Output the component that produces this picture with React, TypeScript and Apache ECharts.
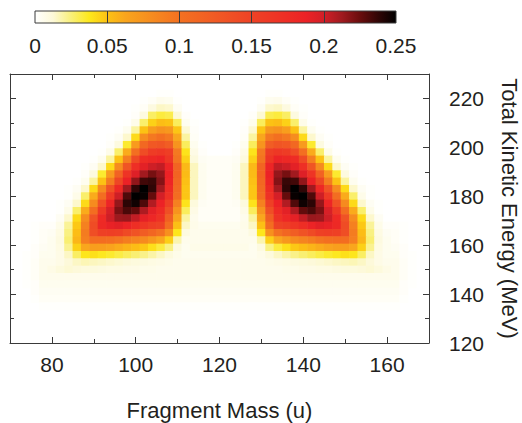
import React, { useEffect, useRef } from "react";
import * as echarts from "echarts";

// Fragment mass bin centres (u), bin width 2 u
const MASSES = [74, 76, 78, 80, 82, 84, 86, 88, 90, 92, 94, 96, 98, 100, 102, 104, 106, 108, 110, 112, 114, 116, 118, 120, 122, 124, 126, 128, 130, 132, 134, 136, 138, 140, 142, 144, 146, 148, 150, 152, 154, 156, 158, 160, 162, 164, 166];
// Total kinetic energy bin centres (MeV), bin width 3 MeV
const TKES = [222, 219, 216, 213, 210, 207, 204, 201, 198, 195, 192, 189, 186, 183, 180, 177, 174, 171, 168, 165, 162, 159, 156, 153, 150, 147, 144, 141, 138, 135];
const MASS_BIN = 2;
const TKE_BIN = 3;

// Yield per cell, in thousandths (rows follow TKES, columns follow MASSES)
const YIELD_PERMILLE = [
  [0,0,0,0,0,0,0,0,0,0,0,0,0,0,0,0,1,1,0,0,0,0,0, 0, 0,0,0,0,0,1,1,0,0,0,0,0,0,0,0,0,0,0,0,0,0,0,0],
  [0,0,0,0,0,0,0,0,0,0,0,0,0,0,1,3,6,5,1,0,0,0,0, 0, 0,0,0,0,1,5,6,3,1,0,0,0,0,0,0,0,0,0,0,0,0,0,0],
  [0,0,0,0,0,0,0,0,0,0,0,0,0,1,3,10,15,14,4,0,0,0,0, 0, 0,0,0,0,4,14,15,10,3,1,0,0,0,0,0,0,0,0,0,0,0,0,0],
  [0,0,0,0,0,0,0,0,0,0,0,0,0,2,10,28,33,31,13,2,0,0,0, 0, 0,0,0,2,13,31,33,28,10,2,0,0,0,0,0,0,0,0,0,0,0,0,0],
  [0,0,0,0,0,0,0,0,0,0,0,0,1,7,27,45,52,50,29,5,1,0,0, 0, 0,0,1,5,29,50,52,45,27,7,1,0,0,0,0,0,0,0,0,0,0,0,0],
  [0,0,0,0,0,0,0,0,0,0,0,1,5,20,50,68,76,72,49,13,2,0,0, 0, 0,0,2,13,49,72,76,68,50,20,5,1,0,0,0,0,0,0,0,0,0,0,0],
  [0,0,0,0,0,0,0,0,0,0,1,4,14,42,80,95,102,95,62,20,3,0,0, 0, 0,0,3,20,62,95,102,95,80,42,14,4,1,0,0,0,0,0,0,0,0,0,0],
  [0,0,0,0,0,0,0,0,0,0,2,10,35,70,110,127,130,122,75,29,5,1,0, 0, 0,1,5,29,75,122,130,127,110,70,35,10,2,0,0,0,0,0,0,0,0,0,0],
  [0,0,0,0,0,0,0,0,0,1,7,27,60,102,140,158,162,155,94,39,8,2,0, 0, 0,2,8,39,94,155,162,158,140,102,60,27,7,1,0,0,0,0,0,0,0,0,0],
  [0,0,0,0,0,0,0,0,1,5,20,50,90,142,176,181,185,165,98,45,11,4,3, 3, 3,4,11,45,98,165,185,181,176,142,90,50,20,5,1,0,0,0,0,0,0,0,0],
  [0,0,0,0,0,0,0,1,4,14,42,81,130,173,192,201,204,184,115,54,16,5,3, 3, 3,5,16,54,115,184,204,201,192,173,130,81,42,14,4,1,0,0,0,0,0,0,0],
  [0,0,0,0,0,0,0,2,10,35,70,117,167,194,212,222,215,187,115,53,16,5,3, 3, 3,5,16,53,115,187,215,222,212,194,167,117,70,35,10,2,0,0,0,0,0,0,0],
  [0,0,0,0,0,0,1,5,20,50,92,146,188,216,234,236,219,184,111,51,16,5,3, 3, 3,5,16,51,111,184,219,236,234,216,188,146,92,50,20,5,1,0,0,0,0,0,0],
  [0,0,0,0,0,1,4,14,42,81,133,181,212,238,250,238,212,177,108,49,16,5,3, 3, 3,5,16,49,108,177,212,238,250,238,212,181,133,81,42,14,4,1,0,0,0,0,0],
  [0,0,0,0,0,1,7,27,60,105,160,201,231,250,248,226,199,170,105,49,16,5,3, 3, 3,5,16,49,105,170,199,226,248,250,231,201,160,105,60,27,7,1,0,0,0,0,0],
  [0,0,0,0,1,4,14,42,81,134,184,215,239,246,231,208,187,153,88,39,11,4,3, 3, 3,4,11,39,88,153,187,208,231,246,239,215,184,134,81,42,14,4,1,0,0,0,0],
  [0,0,0,0,1,7,27,60,105,160,197,221,232,227,209,192,177,136,75,29,8,3,3, 3, 3,3,8,29,75,136,177,192,209,227,232,221,197,160,105,60,27,7,1,0,0,0,0],
  [0,0,0,0,4,14,42,80,132,178,201,213,214,204,191,182,169,120,62,20,6,3,3, 3, 3,3,6,20,62,120,169,182,191,204,214,213,201,178,132,80,42,14,4,0,0,0,0],
  [0,1,2,2,7,21,48,88,140,180,189,192,185,174,165,155,150,105,51,15,7,5,5, 5, 5,5,7,15,51,105,150,155,165,174,185,192,189,180,140,88,48,21,7,2,2,1,0],
  [0,1,3,4,9,24,52,92,138,152,155,152,142,132,122,112,100,78,38,10,6,6,6, 6, 6,6,6,10,38,78,100,112,122,132,142,152,155,152,138,92,52,24,9,4,3,1,0],
  [0,1,3,5,10,26,55,90,104,104,102,98,91,86,81,72,62,46,18,6,6,6,6, 6, 6,6,6,6,18,46,62,72,81,86,91,98,102,104,104,90,55,26,10,5,3,1,0],
  [0,2,4,5,9,22,45,62,68,67,64,60,56,52,48,40,33,24,10,5,7,7,7, 7, 7,7,7,5,10,24,33,40,48,52,56,60,64,67,68,62,45,22,9,5,4,2,0],
  [1,2,5,5,8,15,28,38,40,37,35,32,29,26,23,19,15,11,7,5,5,5,5, 5, 5,5,5,5,7,11,15,19,23,26,29,32,35,37,40,38,28,15,8,5,5,2,1],
  [1,3,6,6,8,12,15,17,16,15,14,13,12,11,10,9,8,7,6,6,6,6,6, 6, 6,6,6,6,6,7,8,9,10,11,12,13,14,15,16,17,15,12,8,6,6,3,1],
  [1,3,6,8,11,13,12,11,11,10,9,9,8,8,7,7,6,6,6,6,6,6,6, 6, 6,6,6,6,6,6,6,7,7,8,8,9,9,10,11,11,12,13,11,8,6,3,1],
  [1,3,6,6,6,6,6,6,6,6,6,6,6,6,6,6,6,6,6,6,6,6,6, 6, 6,6,6,6,6,6,6,6,6,6,6,6,6,6,6,6,6,6,6,6,6,3,1],
  [1,2,5,5,5,5,5,5,5,5,5,5,5,5,5,5,5,5,5,5,5,5,5, 5, 5,5,5,5,5,5,5,5,5,5,5,5,5,5,5,5,5,5,5,5,5,2,1],
  [0,2,4,4,4,4,4,4,4,4,4,4,4,4,4,4,4,4,4,4,4,4,4, 4, 4,4,4,4,4,4,4,4,4,4,4,4,4,4,4,4,4,4,4,4,4,2,0],
  [0,1,3,3,3,3,3,3,3,3,3,3,3,3,3,3,3,3,3,3,3,3,3, 3, 3,3,3,3,3,3,3,3,3,3,3,3,3,3,3,3,3,3,3,3,3,1,0],
  [0,0,1,1,1,1,1,1,1,1,1,1,1,1,1,1,1,1,1,1,1,1,1, 1, 1,1,1,1,1,1,1,1,1,1,1,1,1,1,1,1,1,1,1,1,1,0,0],
];

const MASS_RANGE = [70, 170];
const TKE_RANGE = [120, 230];
const MASS_TICKS = [80, 100, 120, 140, 160];
const MASS_MINOR_TICKS = [90, 110, 130, 150];
const TKE_TICKS = [120, 140, 160, 180, 200, 220];
const TKE_MINOR_TICKS = [130, 150, 170, 190, 210];
const COLORBAR_TICKS = [0, 0.05, 0.1, 0.15, 0.2, 0.25];
const COLORBAR_INNER_TICKS = [0.05, 0.1, 0.15, 0.2];
const COLORBAR_MAX = 0.25;

const COLORS = [
  "#ffffff", "#fdf9d8", "#f9f07a", "#fde81c", "#fcc214", "#f9a51d", "#f7941e",
  "#f58220", "#f37121", "#f26622", "#f15a24", "#ef4e25", "#ee4225", "#ee3825",
  "#ee2d25", "#ec2226", "#d21f27", "#a01a1f", "#6a0d0d", "#310606", "#000000",
];

const FONT = '"Liberation Sans", Arial, Helvetica, sans-serif';
const TEXT = "#231f20";
const LINE = "#3a3a3a";

export default function App() {
  const ref = useRef<HTMLDivElement>(null);

  useEffect(() => {
    if (!ref.current) return;
    const chart = echarts.init(ref.current, null, { renderer: "svg" });

    const data: number[][] = [];
    TKES.forEach((e, i) => {
      MASSES.forEach((m, j) => {
        const v = YIELD_PERMILLE[i][j];
        if (v > 0) data.push([m, e, v / 1000]);
      });
    });

    const gradient = new echarts.graphic.LinearGradient(
      0, 0, 1, 0,
      COLORS.map((c, i) => ({ offset: i / (COLORS.length - 1), color: c }))
    );

    const tickLine = { color: LINE, width: 1 };
    const mainX = (position: string, major: boolean, labels: boolean) => ({
      type: "value",
      gridIndex: 0,
      position,
      min: MASS_RANGE[0],
      max: MASS_RANGE[1],
      z: 10,
      axisLine: { show: major, lineStyle: { color: LINE, width: 1 } },
      axisTick: {
        show: true,
        inside: true,
        length: major ? 6 : 4,
        lineStyle: tickLine,
        customValues: major ? MASS_TICKS : MASS_MINOR_TICKS,
      },
      axisLabel: labels
        ? { show: true, customValues: MASS_TICKS, fontSize: 21, color: TEXT, fontFamily: FONT, margin: 11 }
        : { show: false },
      splitLine: { show: false },
      ...(labels
        ? {
            name: "Fragment Mass (u)",
            nameLocation: "middle",
            nameGap: 56,
            nameTextStyle: { fontSize: 22, color: TEXT, fontFamily: FONT },
          }
        : {}),
    });
    const mainY = (position: string, major: boolean, labels: boolean) => ({
      type: "value",
      gridIndex: 0,
      position,
      min: TKE_RANGE[0],
      max: TKE_RANGE[1],
      z: 10,
      axisLine: { show: major, lineStyle: { color: LINE, width: 1 } },
      axisTick: {
        show: true,
        inside: true,
        length: major ? 6 : 4,
        lineStyle: tickLine,
        customValues: major ? TKE_TICKS : TKE_MINOR_TICKS,
      },
      axisLabel: labels
        ? { show: true, customValues: TKE_TICKS, fontSize: 21, color: TEXT, fontFamily: FONT, margin: 20 }
        : { show: false },
      splitLine: { show: false },
      ...(labels
        ? {
            name: "Total Kinetic Energy (MeV)",
            nameLocation: "middle",
            nameRotate: -90,
            nameGap: 69,
            nameTextStyle: { fontSize: 22, color: TEXT, fontFamily: FONT },
          }
        : {}),
    });

    chart.setOption({
      animation: false,
      backgroundColor: "#ffffff",
      textStyle: { fontFamily: FONT },
      grid: [
        { left: 10, top: 74, width: 419, height: 269, show: false, containLabel: false, outerBoundsMode: "none" },
        {
          left: 35, top: 11, width: 361, height: 12, show: true, z: 5,
          borderColor: LINE, borderWidth: 1, backgroundColor: "transparent",
          containLabel: false, outerBoundsMode: "none",
        },
      ],
      xAxis: [
        mainX("bottom", true, true),
        mainX("bottom", false, false),
        mainX("top", true, false),
        mainX("top", false, false),
        {
          type: "value",
          gridIndex: 1,
          position: "bottom",
          min: 0,
          max: COLORBAR_MAX,
          z: 10,
          axisLine: { show: false },
          axisTick: { show: true, inside: true, length: 12, lineStyle: tickLine, customValues: COLORBAR_INNER_TICKS },
          axisLabel: { show: true, customValues: COLORBAR_TICKS, fontSize: 21, color: TEXT, fontFamily: FONT, margin: 12 },
          splitLine: { show: false },
        },
      ],
      yAxis: [
        mainY("right", true, true),
        mainY("right", false, false),
        mainY("left", true, false),
        mainY("left", false, false),
        {
          type: "category",
          gridIndex: 1,
          data: ["scale"],
          show: false,
        },
      ],
      visualMap: {
        type: "continuous",
        show: false,
        min: 0,
        max: COLORBAR_MAX,
        dimension: 2,
        seriesIndex: 0,
        inRange: { color: COLORS },
      },
      series: [
        {
          type: "custom",
          coordinateSystem: "cartesian2d",
          xAxisIndex: 0,
          yAxisIndex: 0,
          clip: true,
          silent: true,
          encode: { x: 0, y: 1 },
          data,
          renderItem: (params: any, api: any) => {
            const m = api.value(0);
            const e = api.value(1);
            const a = api.coord([m - MASS_BIN / 2, e + TKE_BIN / 2]);
            const b = api.coord([m + MASS_BIN / 2, e - TKE_BIN / 2]);
            return {
              type: "rect",
              shape: { x: a[0] - 0.3, y: a[1] - 0.3, width: b[0] - a[0] + 0.6, height: b[1] - a[1] + 0.6 },
              style: { fill: api.visual("color") },
            };
          },
        },
        {
          type: "bar",
          xAxisIndex: 4,
          yAxisIndex: 4,
          silent: true,
          barWidth: "100%",
          data: [COLORBAR_MAX],
          itemStyle: { color: gradient },
        },
      ],
    });

    return () => chart.dispose();
  }, []);

  return (
    <div
      ref={ref}
      style={{ position: "fixed", left: 0, top: 0, width: 522, height: 423, background: "#fff" }}
    />
  );
}
